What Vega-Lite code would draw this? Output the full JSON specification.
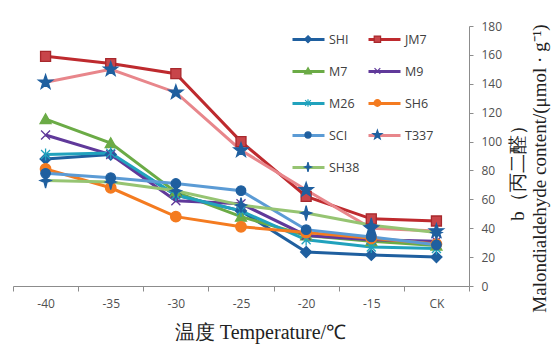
{
  "$schema": "https://vega.github.io/schema/vega-lite/v6.json",
  "width": 456,
  "height": 260,
  "autosize": {"type": "none"},
  "padding": {"left": 13, "top": 26, "right": 85, "bottom": 60},
  "background": "white",
  "config": {"view": {"stroke": null}},
  "data": {"values": [
    {"cultivar": "SHI", "temp": "-40", "mda": 88},
    {"cultivar": "SHI", "temp": "-35", "mda": 91},
    {"cultivar": "SHI", "temp": "-30", "mda": 63},
    {"cultivar": "SHI", "temp": "-25", "mda": 52},
    {"cultivar": "SHI", "temp": "-20", "mda": 23.5},
    {"cultivar": "SHI", "temp": "-15", "mda": 21.5},
    {"cultivar": "SHI", "temp": "CK", "mda": 20},
    {"cultivar": "JM7", "temp": "-40", "mda": 159},
    {"cultivar": "JM7", "temp": "-35", "mda": 154},
    {"cultivar": "JM7", "temp": "-30", "mda": 147},
    {"cultivar": "JM7", "temp": "-25", "mda": 100},
    {"cultivar": "JM7", "temp": "-20", "mda": 62},
    {"cultivar": "JM7", "temp": "-15", "mda": 46.5},
    {"cultivar": "JM7", "temp": "CK", "mda": 45},
    {"cultivar": "M7", "temp": "-40", "mda": 115.5},
    {"cultivar": "M7", "temp": "-35", "mda": 99},
    {"cultivar": "M7", "temp": "-30", "mda": 65},
    {"cultivar": "M7", "temp": "-25", "mda": 48},
    {"cultivar": "M7", "temp": "-20", "mda": 35},
    {"cultivar": "M7", "temp": "-15", "mda": 31},
    {"cultivar": "M7", "temp": "CK", "mda": 28},
    {"cultivar": "M9", "temp": "-40", "mda": 104.5},
    {"cultivar": "M9", "temp": "-35", "mda": 91},
    {"cultivar": "M9", "temp": "-30", "mda": 59},
    {"cultivar": "M9", "temp": "-25", "mda": 57},
    {"cultivar": "M9", "temp": "-20", "mda": 35},
    {"cultivar": "M9", "temp": "-15", "mda": 32},
    {"cultivar": "M9", "temp": "CK", "mda": 31},
    {"cultivar": "M26", "temp": "-40", "mda": 91},
    {"cultivar": "M26", "temp": "-35", "mda": 92},
    {"cultivar": "M26", "temp": "-30", "mda": 63},
    {"cultivar": "M26", "temp": "-25", "mda": 52},
    {"cultivar": "M26", "temp": "-20", "mda": 32},
    {"cultivar": "M26", "temp": "-15", "mda": 27},
    {"cultivar": "M26", "temp": "CK", "mda": 26},
    {"cultivar": "SH6", "temp": "-40", "mda": 81},
    {"cultivar": "SH6", "temp": "-35", "mda": 68},
    {"cultivar": "SH6", "temp": "-30", "mda": 48},
    {"cultivar": "SH6", "temp": "-25", "mda": 41},
    {"cultivar": "SH6", "temp": "-20", "mda": 37},
    {"cultivar": "SH6", "temp": "-15", "mda": 33},
    {"cultivar": "SH6", "temp": "CK", "mda": 29},
    {"cultivar": "SCI", "temp": "-40", "mda": 78},
    {"cultivar": "SCI", "temp": "-35", "mda": 75},
    {"cultivar": "SCI", "temp": "-30", "mda": 71},
    {"cultivar": "SCI", "temp": "-25", "mda": 66},
    {"cultivar": "SCI", "temp": "-20", "mda": 39},
    {"cultivar": "SCI", "temp": "-15", "mda": 34},
    {"cultivar": "SCI", "temp": "CK", "mda": 28.5},
    {"cultivar": "T337", "temp": "-40", "mda": 141},
    {"cultivar": "T337", "temp": "-35", "mda": 150},
    {"cultivar": "T337", "temp": "-30", "mda": 134},
    {"cultivar": "T337", "temp": "-25", "mda": 94},
    {"cultivar": "T337", "temp": "-20", "mda": 66.5},
    {"cultivar": "T337", "temp": "-15", "mda": 40},
    {"cultivar": "T337", "temp": "CK", "mda": 38},
    {"cultivar": "SH38", "temp": "-40", "mda": 73},
    {"cultivar": "SH38", "temp": "-35", "mda": 72},
    {"cultivar": "SH38", "temp": "-30", "mda": 66},
    {"cultivar": "SH38", "temp": "-25", "mda": 56},
    {"cultivar": "SH38", "temp": "-20", "mda": 50.5},
    {"cultivar": "SH38", "temp": "-15", "mda": 42},
    {"cultivar": "SH38", "temp": "CK", "mda": 37}
  ]},
  "encoding": {
    "x": {
      "field": "temp", "type": "nominal",
      "sort": ["-40", "-35", "-30", "-25", "-20", "-15", "CK"],
      "scale": {"type": "band", "paddingInner": 0, "paddingOuter": 0},
      "axis": {
        "title": "温度 Temperature/℃",
        "titleFont": "Liberation Serif",
        "titleFontSize": 20,
        "titleFontWeight": "normal",
        "titleColor": "#222222",
        "titleX": 247,
        "titleY": 36,
        "titleAlign": "center",
        "titleBaseline": "top",
        "labelAngle": 0,
        "labelFont": "Open Sans",
        "labelFontSize": 12,
        "labelColor": "#505050",
        "labelPadding": 7,
        "tickBand": "extent",
        "tickSize": 5,
        "tickColor": "#8c8c8c",
        "domainColor": "#8c8c8c",
        "grid": false
      }
    },
    "y": {
      "field": "mda", "type": "quantitative",
      "scale": {"domain": [0, 180], "nice": false, "zero": true},
      "axis": {
        "orient": "right",
        "values": [0, 20, 40, 60, 80, 100, 120, 140, 160, 180],
        "title": ["b（丙二醛）", "Malondialdehyde content/(μmol · g⁻¹)"],
        "titleFont": "Liberation Serif",
        "titleFontSize": 19,
        "titleFontWeight": "normal",
        "titleColor": "#222222",
        "titleAngle": 270,
        "titleAlign": "center",
        "titleBaseline": "top",
        "titleLineHeight": 22,
        "titleX": 39,
        "titleY": 142,
        "labelFont": "Open Sans",
        "labelFontSize": 12,
        "labelColor": "#505050",
        "labelPadding": 8,
        "tickSize": 4,
        "tickColor": "#8c8c8c",
        "domainColor": "#8c8c8c",
        "grid": false
      }
    }
  },
  "layer": [
    {
      "mark": {"type": "line", "strokeWidth": 3},
      "encoding": {
        "color": {
          "field": "cultivar", "type": "nominal",
          "sort": ["SHI", "JM7", "M7", "M9", "M26", "SH6", "SCI", "T337", "SH38"],
          "scale": {"range": ["#1f5f9f", "#be2a2e", "#6bab46", "#60399a", "#21a2bd", "#f47b20", "#5b9bd5", "#e8868b", "#96c472"]},
          "legend": {
            "title": null,
            "orient": "none",
            "direction": "horizontal",
            "legendX": 278,
            "legendY": -4,
            "columns": 2,
            "columnPadding": 2,
            "rowPadding": 8,
            "symbolType": "stroke",
            "symbolSize": 1024,
            "symbolStrokeWidth": 3,
            "labelFont": "Open Sans",
            "labelFontSize": 12.5,
            "labelColor": "#404040",
            "labelOffset": 3
          }
        }
      }
    },
    {
      "mark": {"type": "point", "filled": true, "size": 2500, "strokeWidth": 1.3, "opacity": 1},
      "encoding": {
        "shape": {
          "field": "cultivar", "type": "nominal",
          "scale": {
            "domain": ["SHI", "JM7", "M7", "M9", "M26", "SH6", "SCI", "T337", "SH38"],
            "range": [
              "M0,-0.22L0.22,0L0,0.22L-0.22,0Z",
              "M-0.2,-0.2H0.2V0.2H-0.2Z",
              "M0,-0.21L0.22,0.18H-0.22Z",
              "M-0.18,-0.18L0.18,0.18M-0.18,0.18L0.18,-0.18",
              "M-0.18,-0.18L0.18,0.18M-0.18,0.18L0.18,-0.18M0,-0.24V0.24",
              "M0.21,0A0.21,0.21,0,1,1,-0.21,0A0.21,0.21,0,1,1,0.21,0Z",
              "M0.19,0A0.19,0.19,0,1,1,-0.19,0A0.19,0.19,0,1,1,0.19,0Z",
              "M0,-0.3L0.0705,-0.0971L0.2853,-0.0927L0.1141,0.0371L0.1763,0.2427L0,0.12L-0.1763,0.2427L-0.1141,0.0371L-0.2853,-0.0927L-0.0705,-0.0971Z",
              "M0,-0.3L0.06,-0.06L0.22,0L0.06,0.06L0,0.3L-0.06,0.06L-0.22,0L-0.06,-0.06Z"
            ]
          },
          "legend": {
            "title": null,
            "orient": "none",
            "direction": "horizontal",
            "legendX": 278,
            "legendY": -4,
            "columns": 2,
            "columnPadding": 32.4,
            "rowPadding": 8,
            "symbolSize": 1024,
            "symbolStrokeWidth": 1.2,
            "labelFont": "Open Sans",
            "labelFontSize": 12.5,
            "labelExpr": "''",
            "labelOffset": 3
          }
        },
        "fill": {
          "field": "cultivar", "type": "nominal",
          "scale": {
            "domain": ["SHI", "JM7", "M7", "M9", "M26", "SH6", "SCI", "T337", "SH38"],
            "range": ["#1f5f9f", "#c8454a", "#6bab46", "#60399a", "#21a2bd", "#f47b20", "#1f5f9f", "#1f5f9f", "#1f5f9f"]
          }
        },
        "stroke": {
          "field": "cultivar", "type": "nominal",
          "scale": {
            "domain": ["SHI", "JM7", "M7", "M9", "M26", "SH6", "SCI", "T337", "SH38"],
            "range": ["#1f5f9f", "#a8282c", "#6bab46", "#60399a", "#21a2bd", "#f47b20", "#1f5f9f", "#1f5f9f", "#1f5f9f"]
          }
        }
      }
    }
  ]
}
